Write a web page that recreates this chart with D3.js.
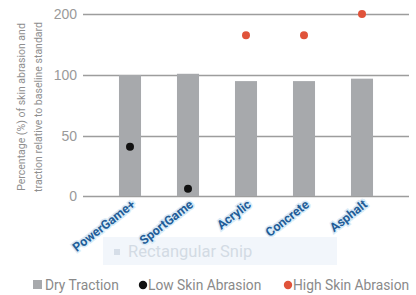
<!DOCTYPE html>
<html>
<head>
<meta charset="utf-8">
<script src="https://cdn.jsdelivr.net/npm/d3@7"></script>
<style>
  body { margin: 0; background: #fff; }
  svg { display: block; font-family: Roboto, "Open Sans", sans-serif; }
</style>
</head>
<body>
<svg id="chart" width="416" height="295"></svg>
<script>
// data
const surfaces = ["PowerGame+", "SportGame", "Acrylic", "Concrete", "Asphalt"];
const dryTraction = [100, 102, 95, 95, 97];
const lowAbrasion = [41, 6, null, null, null];
const highAbrasion = [null, null, 165, 165, 200];
const yTicks = [0, 50, 100, 200];

const svg = d3.select("#chart");

// the axis has evenly spaced ticks 0, 50, 100, 200 (not linear)
let yScale = d3.scaleLinear()
    .domain(yTicks)
    .range([196, 136, 75, 14]);

let xScale = d3.scaleBand()
    .domain(surfaces)
    .range([101, 391])
    .paddingInner(0.62)
    .paddingOuter(0.31);

// grid lines + tick labels
let yAxis = d3.axisLeft(yScale)
    .tickValues(yTicks)
    .tickSize(-326)
    .tickPadding(6);

let gy = svg.append("g")
    .attr("transform", "translate(83,0)")
    .call(yAxis);
gy.select(".domain").remove();
gy.selectAll(".tick line")
    .attr("stroke", "#9d9d9d")
    .attr("stroke-width", 1.6);
gy.selectAll(".tick text")
    .attr("fill", "#9a9a9a")
    .attr("font-size", 14)
    .attr("font-weight", 300);

// bars
svg.append("g").selectAll("rect")
    .data(dryTraction)
    .join("rect")
    .attr("x", (d, i) => xScale(surfaces[i]))
    .attr("y", d => yScale(d))
    .attr("width", xScale.bandwidth())
    .attr("height", d => yScale(0) - yScale(d))
    .attr("fill", "#a7a9ac");

// dots
svg.append("g").selectAll("circle")
    .data(lowAbrasion.map((v, i) => ({v, i})).filter(d => d.v != null))
    .join("circle")
    .attr("cx", d => xScale(surfaces[d.i]) + xScale.bandwidth() / 2)
    .attr("cy", d => yScale(d.v))
    .attr("r", 4)
    .attr("fill", "#111");

svg.append("g").selectAll("circle")
    .data(highAbrasion.map((v, i) => ({v, i})).filter(d => d.v != null))
    .join("circle")
    .attr("cx", d => xScale(surfaces[d.i]) + xScale.bandwidth() / 2)
    .attr("cy", d => yScale(d.v))
    .attr("r", 4)
    .attr("fill", "#e0533a");

// faint screenshot overlay left in the picture
svg.append("rect")
    .attr("x", 103).attr("y", 237)
    .attr("width", 234).attr("height", 28)
    .attr("fill", "#f2f6fb");
svg.append("rect")
    .attr("x", 114).attr("y", 249)
    .attr("width", 6).attr("height", 6)
    .attr("fill", "#d6dee8");
svg.append("text")
    .attr("x", 128).attr("y", 257)
    .attr("font-size", 16.5)
    .attr("fill", "#d3dbe4")
    .text("Rectangular Snip");

// x labels, rotated
svg.append("g").selectAll("g")
    .data(surfaces)
    .join("g")
    .attr("transform", d => "translate(" + (xScale(d) + xScale.bandwidth() / 2 + 6) + ",206)")
    .append("text")
    .attr("transform", "rotate(-38)")
    .attr("text-anchor", "end")
    .attr("font-size", 12.5)
    .attr("font-weight", 700)
    .attr("fill", "#1f5d98")
    .attr("stroke", "#d9ebf7")
    .attr("stroke-width", 3)
    .attr("paint-order", "stroke")
    .text(d => d);

// y title
let title = svg.append("text")
    .attr("transform", "translate(25,107) rotate(-90)")
    .attr("text-anchor", "middle")
    .attr("font-size", 10.5)
    .attr("fill", "#8f8f8f");
title.append("tspan").attr("x", 0).attr("dy", 0).text("Percentage (%) of skin abrasion and");
title.append("tspan").attr("x", 0).attr("dy", 17).text("traction relative to baseline standard");

// legend
let legend = svg.append("g").attr("font-size", 13.8).attr("fill", "#8a8a8a");
legend.append("rect").attr("x", 33).attr("y", 280).attr("width", 9).attr("height", 9).attr("fill", "#a7a9ac");
legend.append("text").attr("x", 45).attr("y", 290).text("Dry Traction");
legend.append("circle").attr("cx", 143).attr("cy", 285).attr("r", 4.2).attr("fill", "#111");
legend.append("text").attr("x", 148).attr("y", 290).text("Low Skin Abrasion");
legend.append("circle").attr("cx", 288).attr("cy", 285).attr("r", 4.2).attr("fill", "#e0533a");
legend.append("text").attr("x", 293).attr("y", 290).text("High Skin Abrasion");
</script>
</body>
</html>
